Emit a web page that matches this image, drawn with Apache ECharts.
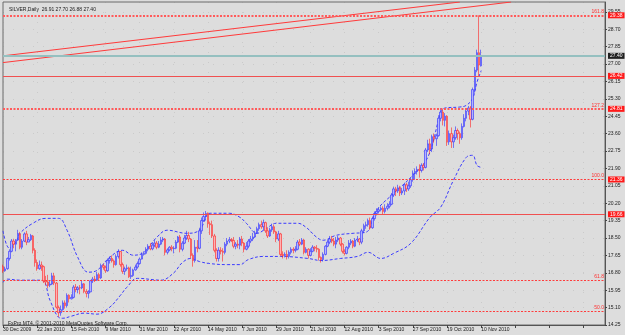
<!DOCTYPE html>
<html>
<head>
<meta charset="utf-8">
<script src="https://cdn.jsdelivr.net/npm/echarts@6/dist/echarts.min.js"></script>
<style>
html, body { margin: 0; padding: 0; background: #dddddd; }
#chart { width: 625px; height: 335px; }
</style>
</head>
<body>
<div id="chart"></div>
<script>
/* SILVER, Daily - bar 0 = 30 Dec 2009, one bar per weekday */
const slotCount = 283;   // bars + empty space on the right
const xLabels = ['30 Dec 2009', '22 Jan 2010', '15 Feb 2010', '9 Mar 2010', '31 Mar 2010', '22 Apr 2010',
	'14 May 2010', '7 Jun 2010', '29 Jun 2010', '21 Jul 2010', '12 Aug 2010', '3 Sep 2010',
	'27 Sep 2010', '19 Oct 2010', '10 Nov 2010'];

// [open, close, low, high]
const ohlc = [
	[17.10,16.90,16.80,17.20],[16.90,16.99,16.85,17.10],[17.00,17.50,16.95,17.55],[17.50,17.85,17.40,17.95],
	[17.85,18.35,17.80,18.45],[18.35,18.20,18.00,18.45],[18.20,18.38,17.85,18.45],[18.40,18.72,18.35,18.90],
	[18.70,18.05,17.95,18.80],[18.05,18.35,17.95,18.45],[18.35,18.70,18.30,18.78],[18.70,18.30,18.15,18.85],
	[18.30,18.42,18.30,18.55],[18.42,18.62,18.35,18.70],[18.60,17.90,17.75,18.65],[17.90,17.30,17.10,18.00],
	[17.30,17.00,16.90,17.45],[17.00,17.18,16.95,17.40],[17.18,17.10,16.90,17.35],[17.10,16.40,16.30,17.15],
	[16.40,16.35,16.20,16.65],[16.35,16.18,16.05,16.70],[16.20,16.25,16.10,16.40],[16.25,16.65,16.20,16.80],
	[16.65,16.30,16.20,16.80],[16.30,15.12,15.05,16.35],[15.10,14.85,14.65,15.20],[14.85,15.00,14.70,15.20],
	[15.00,15.33,14.95,15.45],[15.33,15.20,15.05,15.45],[15.20,15.70,15.10,15.80],[15.70,15.53,15.35,15.75],
	[15.53,15.60,15.50,15.75],[15.60,16.10,15.55,16.20],[16.10,15.98,15.85,16.25],[15.98,16.07,15.80,16.15],
	[16.07,16.06,15.75,16.20],[16.06,16.26,16.00,16.40],[16.26,15.89,15.80,16.30],[15.89,15.80,15.60,16.00],
	[15.80,15.87,15.55,15.95],[15.87,16.41,15.85,16.45],[16.41,16.49,16.30,16.60],[16.49,16.45,16.35,16.65],
	[16.45,16.71,16.40,16.85],[16.71,16.55,16.45,16.80],[16.55,17.15,16.50,17.25],[17.15,17.07,16.95,17.25],
	[17.07,16.90,16.80,17.15],[16.90,17.40,16.85,17.50],[17.40,17.50,17.25,17.60],[17.50,17.38,17.30,17.65],
	[17.38,17.20,17.05,17.45],[17.20,17.60,17.15,17.70],[17.60,17.84,17.50,17.95],[17.84,17.20,17.10,17.85],
	[17.20,16.87,16.75,17.30],[16.87,17.00,16.70,17.10],[17.00,17.04,16.90,17.20],[17.04,16.61,16.55,17.10],
	[16.61,16.67,16.50,17.10],[16.67,16.94,16.60,17.00],[16.94,17.08,16.90,17.20],[17.08,17.25,17.00,17.35],
	[17.25,17.47,17.20,17.55],[17.47,17.70,17.45,17.80],[17.70,17.75,17.65,17.85],[17.75,17.95,17.70,18.05],
	[17.95,18.10,17.85,18.20],[18.10,17.97,17.90,18.25],[17.97,18.15,17.90,18.25],[18.15,18.25,18.05,18.40],
	[18.25,18.05,17.95,18.35],[18.05,18.20,18.00,18.35],[18.20,18.40,18.15,18.55],[18.40,18.45,18.30,18.55],
	[18.45,17.80,17.65,18.50],[17.80,17.92,17.70,18.00],[17.92,18.05,17.85,18.10],[18.05,17.98,17.85,18.15],
	[17.98,18.00,17.75,18.10],[18.00,18.30,17.95,18.40],[18.30,18.55,18.25,18.60],[18.55,17.95,17.80,18.65],
	[17.95,18.25,17.85,18.35],[18.25,18.50,18.20,18.65],[18.50,18.62,18.40,18.85],[18.62,18.45,18.30,18.80],
	[18.45,17.65,17.50,18.50],[17.65,17.40,17.10,17.75],[17.40,18.05,17.30,18.40],[18.05,18.00,17.80,18.40],
	[18.00,18.85,17.95,19.00],[18.85,19.35,18.70,19.50],[19.35,19.55,19.30,19.75],[19.55,19.70,19.35,19.82],
	[19.70,19.20,19.00,19.75],[19.20,19.15,18.65,19.30],[19.15,18.60,18.50,19.35],[18.60,17.90,17.80,18.70],
	[17.90,17.50,17.35,18.00],[17.50,17.90,17.35,18.05],[17.90,17.85,17.70,18.05],[17.85,17.80,17.35,18.00],
	[17.80,18.20,17.70,18.30],[18.20,18.35,18.10,18.50],[18.35,18.42,18.25,18.55],[18.42,18.38,18.30,18.50],
	[18.38,18.10,18.00,18.55],[18.10,18.20,17.95,18.30],[18.20,18.15,18.00,18.40],[18.15,18.45,17.95,18.55],
	[18.45,18.25,18.10,18.60],[18.25,17.95,17.80,18.30],[17.95,18.10,17.90,18.30],[18.10,18.35,18.00,18.45],
	[18.35,18.45,18.25,18.60],[18.45,18.55,18.35,18.75],[18.55,18.75,18.50,18.85],[18.75,18.95,18.70,19.05],
	[18.95,19.15,18.85,19.25],[19.15,19.05,18.95,19.35],[19.05,19.25,18.85,19.40],[19.25,18.85,18.75,19.30],
	[18.85,18.60,18.50,19.00],[18.60,18.90,18.55,19.00],[18.90,19.05,18.80,19.20],[19.05,18.80,18.70,19.15],
	[18.80,18.45,18.30,18.85],[18.45,18.70,18.35,18.85],[18.70,17.70,17.60,18.75],[17.70,17.65,17.50,17.85],
	[17.65,17.70,17.55,17.80],[17.70,17.60,17.45,17.90],[17.60,17.80,17.50,17.90],[17.80,17.95,17.70,18.05],
	[17.95,17.90,17.75,18.05],[17.90,17.95,17.80,18.10],[17.95,18.30,17.90,18.40],[18.30,18.20,18.10,18.45],
	[18.20,18.40,18.15,18.50],[18.40,17.80,17.70,18.45],[17.80,17.95,17.75,18.05],[17.95,17.65,17.50,18.00],
	[17.65,17.85,17.60,18.00],[17.85,18.05,17.80,18.15],[18.05,18.00,17.85,18.10],[18.00,17.95,17.80,18.15],
	[17.95,17.55,17.40,18.00],[17.55,17.45,17.30,17.60],[17.45,17.70,17.35,17.80],[17.70,18.10,17.65,18.15],
	[18.10,18.30,18.05,18.40],[18.30,18.45,18.20,18.60],[18.45,18.35,18.25,18.60],[18.35,18.20,18.10,18.50],
	[18.20,18.40,18.00,18.55],[18.40,18.50,18.30,18.60],[18.50,18.20,18.10,18.55],[18.20,17.85,17.75,18.25],
	[17.85,17.75,17.65,17.95],[17.75,18.05,17.70,18.10],[18.05,18.25,17.95,18.40],[18.25,18.35,18.15,18.45],
	[18.35,18.10,18.00,18.40],[18.10,18.40,18.05,18.50],[18.40,18.45,18.30,18.60],[18.45,18.30,18.15,18.50],
	[18.30,18.85,18.20,18.95],[18.85,19.10,18.75,19.20],[19.10,19.15,18.95,19.30],[19.15,19.35,19.05,19.45],
	[19.35,19.00,18.90,19.50],[19.00,19.45,18.95,19.55],[19.45,19.70,19.35,19.80],[19.70,19.80,19.60,19.95],
	[19.80,19.88,19.70,20.00],[19.88,19.95,19.80,20.05],[19.95,19.80,19.65,20.05],[19.80,19.95,19.70,20.15],
	[19.95,20.05,19.85,20.20],[20.05,20.15,19.95,20.30],[20.15,20.60,20.10,20.70],[20.60,20.90,20.50,21.00],
	[20.90,20.80,20.55,21.00],[20.80,20.95,20.70,21.10],[20.95,20.70,20.55,21.05],[20.70,20.80,20.60,20.95],
	[20.80,21.10,20.60,21.20],[21.10,20.90,20.75,21.20],[20.90,21.05,20.80,21.25],[21.05,21.35,20.95,21.45],
	[21.35,21.65,21.25,21.80],[21.65,21.75,21.35,21.90],[21.75,21.85,21.60,22.00],[21.85,21.80,21.45,22.10],
	[21.80,22.05,21.70,22.15],[22.05,21.95,21.80,22.15],[21.95,22.80,21.90,22.90],[22.80,23.10,22.70,23.30],
	[23.10,22.85,22.60,23.35],[22.85,23.45,22.70,23.55],[23.45,23.35,23.15,23.60],[23.35,23.50,23.00,23.60],
	[23.50,24.35,23.45,24.50],[24.35,24.65,24.20,24.85],[24.65,24.25,24.00,24.80],[24.25,24.45,23.95,24.60],
	[24.45,23.20,23.00,24.50],[23.20,23.60,23.05,23.75],[23.60,23.20,22.90,23.90],[23.20,23.40,22.90,23.55],
	[23.40,23.75,23.30,23.95],[23.75,23.60,23.30,23.85],[23.60,23.40,23.10,23.70],[23.40,23.95,23.30,24.10],
	[23.95,24.35,23.90,24.55],[24.35,24.70,24.20,24.85],[24.70,24.85,24.50,24.95],[24.85,24.30,23.90,24.95],
	[24.30,25.75,24.25,25.85],[25.75,26.70,25.60,26.85],[26.70,27.55,26.60,27.70],[27.55,26.95,26.42,29.38],
	[26.91,27.40,26.88,27.70]
];

// Bollinger bands: [bar, price]
const bbUpper = [[0,18.85],[3,18.0],[6,18.3],[8,18.73],[14,19.22],[20,19.46],[26,19.46],[30,18.88],[35,17.56],
	[40,16.83],[44,16.92],[50,17.56],[56,17.90],[61,17.66],[66,17.80],[72,18.53],[77,18.88],[86,18.73],[92,18.88],
	[97,19.71],[106,19.71],[111,19.51],[114,19.22],[119,18.73],[124,19.02],[128,19.22],[138,19.22],[142,19.02],
	[147,18.53],[150,18.39],[156,18.63],[164,18.73],[170,18.78],[175,19.85],[183,20.68],[191,21.46],[199,22.45],
	[205,24.6],[207,24.85],[214,24.9],[217,24.98],[220,25.32],[222,26.1],[224,26.68]];
const bbLower = [[0,16.34],[2,16.49],[8,16.44],[18,16.44],[22,15.46],[26,14.63],[28,14.58],[32,14.68],[38,14.83],
	[44,14.78],[50,15.12],[55,15.70],[58,16.09],[63,16.53],[74,16.44],[80,16.8],[84,17.3],[88,17.5],[92,17.35],
	[97,17.25],[105,17.2],[111,17.2],[115,17.45],[122,17.6],[130,17.6],[143,17.5],[149,17.4],[158,17.5],[166,17.6],
	[171,17.8],[177,17.5],[183,17.75],[191,18.24],[200,19.51],[205,20.0],[211,21.32],[217,22.44],[220,22.54],
	[222,22.05],[224,21.95]];

// two trend lines: [bar, price] start / end
const trendA = [[0,27.40],[214,30.03]];
const trendB = [[0,27.07],[238,30.03]];

// horizontal levels
const fibLevels = [29.38, 24.81, 21.36, 16.42, 14.93];
const fibNames = ['161.8', '127.2', '100.0', '61.8', '50.0'];
const boxLevels = [29.38, 26.42, 24.81, 21.36, 19.66];
const solidLevels = [26.42, 19.66];
const lastPrice = 27.40;

const FONT = 'Liberation Sans';
const chart = echarts.init(document.getElementById('chart'));

const markData = [];
// dotted fibo lines with their names
fibLevels.forEach(function (v, k) {
	const thick = k < 2;
	markData.push({
		yAxis: v,
		lineStyle: { color: thick ? '#ff5a5a' : '#ff3c3c', width: thick ? 2 : 1, type: [2, 1.5] },
		label: { show: true, position: 'insideEndTop', formatter: fibNames[k], color: '#ff3030',
			fontSize: 5, fontFamily: FONT, distance: 1 }
	});
});
solidLevels.forEach(function (v) {
	markData.push({ yAxis: v, lineStyle: { color: '#f05050', width: 1, type: 'solid' }, label: { show: false } });
});
markData.push({ yAxis: lastPrice, lineStyle: { color: '#95c0c0', width: 2, type: 'solid' },
	label: { show: true, position: 'end', formatter: lastPrice.toFixed(2), backgroundColor: '#202020',
		color: '#ffffff', fontSize: 5, fontFamily: FONT, padding: [1, 2, 0, 2], distance: 3 } });
// red price boxes on the scale (line itself invisible)
boxLevels.forEach(function (v) {
	markData.push({ yAxis: v, lineStyle: { width: 0, color: 'rgba(0,0,0,0)' },
		label: { show: true, position: 'end', formatter: v.toFixed(2), backgroundColor: '#ff1a1a',
			color: '#ffffff', fontSize: 5, fontFamily: FONT, padding: [1, 2, 0, 2], distance: 3 } });
});

const bandStyle = { color: '#3b3bff', width: 1, type: [3, 2] };

chart.setOption({
	backgroundColor: '#dddddd',
	animation: false,
	title: [
		{ text: 'SILVER,Daily  26.91 27.70 26.88 27.40', left: 4, top: 2,
			textStyle: { fontSize: 5, fontWeight: 'normal', color: '#1a1a1a', fontFamily: FONT } },
		{ text: 'FxPro MT4, © 2001-2010 MetaQuotes Software Corp.', left: 3, top: 316,
			textStyle: { fontSize: 5, fontWeight: 'normal', color: '#1a1a1a', fontFamily: FONT } }
	],
	grid: { left: 2, right: 20, top: 2, bottom: 10, show: true, borderColor: '#6a6a6a', borderWidth: 1,
		backgroundColor: 'transparent' },
	xAxis: {
		type: 'category',
		data: Array.from({ length: slotCount }, function (_, i) { return String(i); }),
		boundaryGap: false,
		axisLine: { show: true, lineStyle: { color: '#555', width: 1 } },
		axisTick: { show: true, interval: 15, length: 3, lineStyle: { color: '#444' } },
		axisLabel: {
			interval: 15, align: 'left', margin: 2, fontSize: 5, color: '#1a1a1a', fontFamily: FONT,
			formatter: function (v, i) { return xLabels[i / 16] || ''; }
		},
		splitLine: { show: true, interval: 15, lineStyle: { color: 'rgba(130,130,130,0.2)', type: [1, 9] } }
	},
	yAxis: {
		type: 'value',
		position: 'right',
		min: 14.25,
		max: 30.03,
		interval: 0.85,
		axisLine: { show: true, lineStyle: { color: '#555', width: 1 } },
		axisTick: { show: true, length: 2, lineStyle: { color: '#444' } },
		axisLabel: { showMaxLabel: false, margin: 3, fontSize: 5, color: '#1a1a1a', fontFamily: FONT,
			formatter: function (v) { return v.toFixed(2); } },
		splitLine: { show: true, showMaxLine: false, lineStyle: { color: 'rgba(130,130,130,0.2)', type: [1, 9] } }
	},
	series: [
		{
			name: 'trendA', type: 'line', data: trendA, symbol: 'none', silent: true,
			lineStyle: { color: '#ff3a3a', width: 1 }, z: 1
		},
		{
			name: 'trendB', type: 'line', data: trendB, symbol: 'none', silent: true,
			lineStyle: { color: '#ff3a3a', width: 1 }, z: 1
		},
		{
			name: 'bbUpper', type: 'line', data: bbUpper, symbol: 'none', smooth: 0.4, silent: true,
			lineStyle: bandStyle, z: 2
		},
		{
			name: 'bbLower', type: 'line', data: bbLower, symbol: 'none', smooth: 0.4, silent: true,
			lineStyle: bandStyle, z: 2
		},
		{
			name: 'SILVER', type: 'candlestick', data: ohlc, barWidth: 2, z: 3,
			itemStyle: {
				color: '#b2b4ff', color0: '#ffb2b2',
				borderColor: '#2c2cff', borderColor0: '#ff2424', borderWidth: 0.6
			},
			markLine: { symbol: ['none', 'none'], silent: true, animation: false, data: markData, z: 4 }
		}
	]
});
</script>
</body>
</html>
